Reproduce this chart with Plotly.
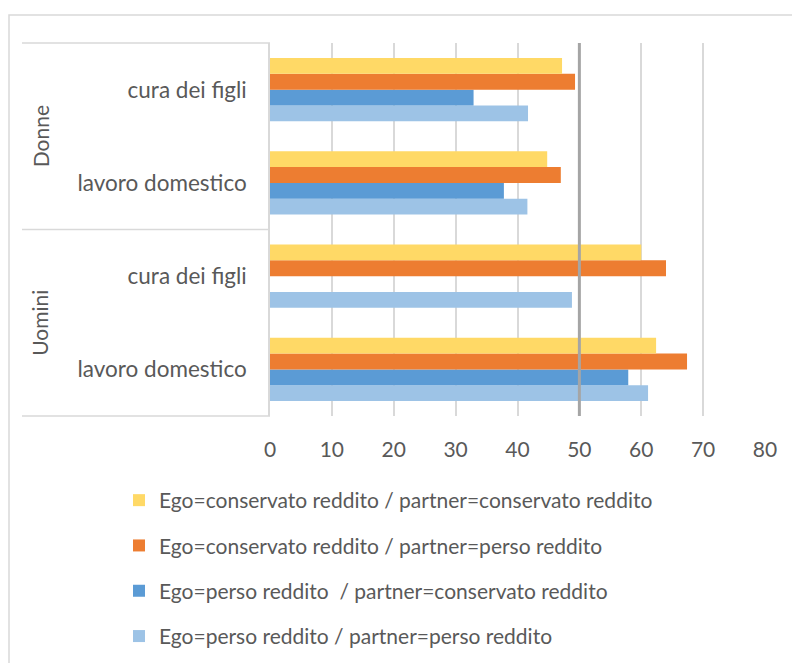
import plotly.graph_objects as go

# ---- data ----
groups = ["Donne", "Donne", "Uomini", "Uomini"]
subcategories = ["cura dei figli", "lavoro domestico", "cura dei figli", "lavoro domestico"]

series_names = [
    "Ego=conservato reddito / partner=conservato reddito",
    "Ego=conservato reddito / partner=perso reddito",
    "Ego=perso reddito  / partner=conservato reddito",
    "Ego=perso reddito / partner=perso reddito",
]
cons_cons = [47.2, 44.8, 60.0, 62.4]
cons_perso = [49.3, 47.0, 64.0, 67.4]
perso_cons = [32.9, 37.8, None, 57.9]
perso_perso = [41.7, 41.6, 48.8, 61.1]

x_ticks = [0, 10, 20, 30, 40, 50, 60, 70, 80]
reference_value = 50

colors = ["#FFD966", "#ED7D31", "#5B9BD5", "#9DC3E6"]

# ---- geometry (screen pixels; page body has an 8px margin) ----
OFF = 8
W, H = 800 - OFF, 663 - OFF
L, R, T, B = 270, 765, 43, 416  # plot area in screen pixels


def px(xs):
    return (xs - L) / (R - L)


def py(ys):
    return (B - ys) / (B - T)


keys = [g + " | " + s for g, s in zip(groups, subcategories)]
bottom_up = keys[::-1]

fig = go.Figure()
all_series = [cons_cons, cons_perso, perso_cons, perso_perso]
# plot bottom bar first so the first series sits on top of each group
for i in [3, 2, 1, 0]:
    fig.add_trace(go.Bar(
        name=series_names[i],
        y=keys,
        x=all_series[i],
        orientation="h",
        marker=dict(color=colors[i], line=dict(width=0)),
        legendgroup=str(i),
        legendrank=i + 1,
    ))

font_color = "#595959"
font_family = "Lato, 'Open Sans', sans-serif"

fig.update_layout(
    width=W, height=H,
    margin=dict(l=L - OFF, r=W + OFF - R, t=T - OFF, b=H + OFF - B, autoexpand=False),
    paper_bgcolor="white", plot_bgcolor="white",
    barmode="group", bargap=0.32, bargroupgap=0,
    font=dict(family=font_family, color=font_color, size=21),
    showlegend=True,
    legend=dict(
        traceorder="grouped", tracegroupgap=15,
        x=px(119), xanchor="left", y=py(480), yanchor="top",
        font=dict(size=21, color=font_color),
        itemwidth=30,
    ),
    xaxis=dict(
        range=[0, 80], tickvals=x_ticks, showgrid=True, gridcolor="#D9D9D9",
        gridwidth=1.5, zeroline=False, showline=False, ticks="",
        ticklabelstandoff=19, tickfont=dict(size=21, color=font_color),
        fixedrange=True,
    ),
    yaxis=dict(
        categoryorder="array", categoryarray=bottom_up,
        tickvals=keys, ticktext=subcategories,
        showgrid=False, zeroline=False, showline=True, linecolor="#D9D9D9",
        linewidth=1.5, ticks="", ticklabelstandoff=17,
        tickfont=dict(size=22.5, color=font_color),
    ),
)

line_col = "#D9D9D9"
shapes = [
    # outer chart border
    dict(type="rect", xref="paper", yref="paper", x0=px(9), x1=px(810), y0=py(15), y1=py(675),
         line=dict(color=line_col, width=1.5), fillcolor="rgba(0,0,0,0)", layer="below"),
    # category box lines
    dict(type="line", xref="paper", yref="paper", x0=px(22), x1=0, y0=1, y1=1,
         line=dict(color=line_col, width=1.5)),
    dict(type="line", xref="paper", yref="paper", x0=px(22), x1=0, y0=0.5, y1=0.5,
         line=dict(color=line_col, width=1.5)),
    dict(type="line", xref="paper", yref="paper", x0=px(22), x1=0, y0=0, y1=0,
         line=dict(color=line_col, width=1.5)),
    # reference line at 50
    dict(type="line", xref="x", yref="paper", x0=reference_value, x1=reference_value, y0=0, y1=1,
         line=dict(color="#A5A5A5", width=3)),
]
fig.update_layout(shapes=shapes)

for label, yc in [("Donne", 0.75), ("Uomini", 0.25)]:
    fig.add_annotation(text=label, xref="paper", yref="paper", x=px(40), y=yc,
                       showarrow=False, textangle=-90, xanchor="center", yanchor="middle",
                       font=dict(size=21, color=font_color))

fig.write_html("out.html")
